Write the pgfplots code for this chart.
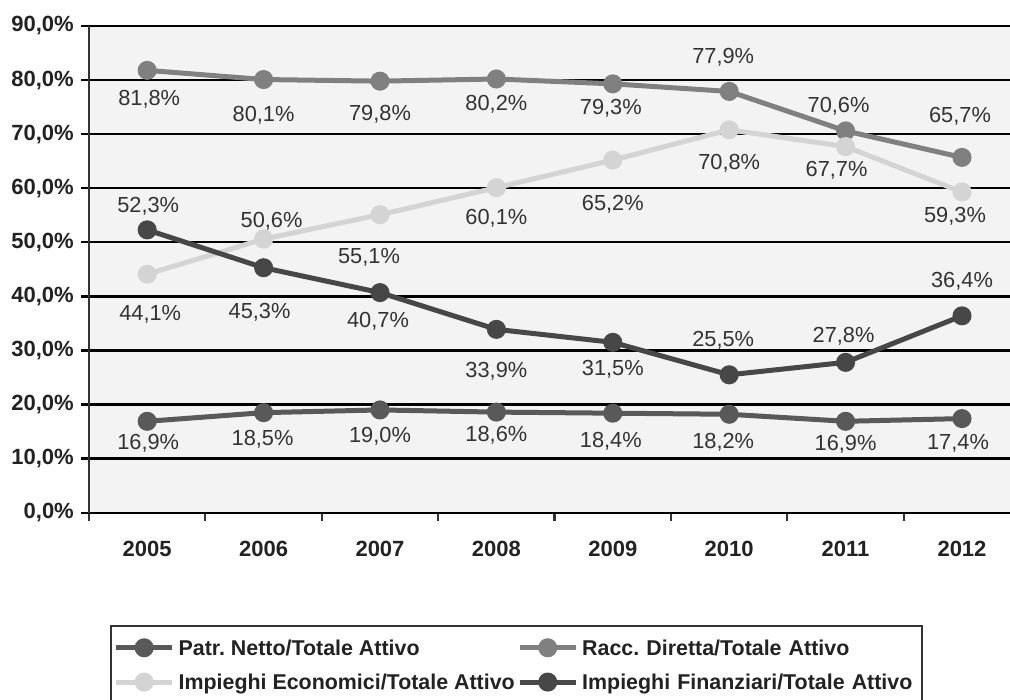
\documentclass[border=0pt]{standalone}
\usepackage{fontspec}
\setmainfont{Liberation Sans}
\usepackage{pgfplots}
\usepackage{pgfplotstable}
\pgfplotsset{compat=1.18}
\frenchspacing

\definecolor{patr}{HTML}{595959}
\definecolor{racc}{HTML}{808080}
\definecolor{econ}{HTML}{D4D4D4}
\definecolor{fin}{HTML}{474747}
\definecolor{plotbg}{HTML}{F3F3F3}
\definecolor{labtext}{HTML}{333333}
\definecolor{ticktext}{HTML}{222222}
\definecolor{axisgray}{HTML}{333333}

% x = year index (0 = 2005), val = ratio in %, lx/ly = label shift in pt
\pgfplotstableread{
x val lx ly
0 16.9 1 -20
1 18.5 -1 -25
2 19.0 0 -25
3 18.6 0 -22
4 18.4 -2 -27
5 18.2 -6 -26
6 16.9 0 -21
7 17.4 -4 -23
}\patrtab

\pgfplotstableread{
x val lx ly
0 81.8 2 -27
1 80.1 0 -34
2 79.8 0 -32
3 80.2 0 -24
4 79.3 -2 -23
5 77.9 -6 36
6 70.6 -7 26
7 65.7 -2 43
}\racctab

\pgfplotstableread{
x val lx ly
0 44.1 3 -38
1 50.6 8 19
2 55.1 -11 -41
3 60.1 0 -29
4 65.2 0 -43
5 70.8 0 -32
6 67.7 -9 -22.5
7 59.3 -7 -22.5
}\econtab

\pgfplotstableread{
x val lx ly
0 52.3 1 25
1 45.3 -4 -43
2 40.7 -2 -27
3 33.9 0 -40
4 31.5 0 -25
5 25.5 -6 36
6 27.8 -2 28
7 36.4 0 36
}\fintab

\pgfplotsset{
  serie/.style={draw=#1, line width=5pt, mark=*, mark size=7pt,
    mark options={fill=#1, draw=none}},
  valuelabels/.style={
    point meta=y,
    nodes near coords={\pgfmathprintnumber[fixed,fixed zerofill,precision=1,use comma,assume math mode=true]{\pgfplotspointmeta}\%},
    visualization depends on={\thisrow{lx} \as \lx},
    visualization depends on={\thisrow{ly} \as \ly},
    every node near coord/.append style={anchor=center, xshift=\lx pt, yshift=\ly pt,
      inner sep=0pt, text height=15.6pt, text depth=0pt,
      font=\fontsize{21.8}{25}\selectfont, text=labtext},
  },
}

\begin{document}
\begin{tikzpicture}
\useasboundingbox (0pt,0pt) rectangle (1010pt,700pt);
\clip (0pt,0pt) rectangle (1010pt,700pt);
\begin{axis}[
  at={(89pt,187.3pt)}, anchor=south west,
  scale only axis, width=931.2pt, height=486.7pt,
  xmin=-0.5, xmax=7.5, ymin=0, ymax=90,
  clip=false,
  axis lines*=left,
  axis background/.style={fill=plotbg},
  x axis line style={draw=black, line width=2.3pt},
  y axis line style={draw=axisgray, line width=2.6pt},
  tick align=outside, major tick length=8pt,
  xtick={-0.5,0.5,...,7.5}, xticklabels={},
  xtick style={line width=2.2pt, draw=axisgray},
  extra x ticks={0,1,...,7},
  extra x tick labels={2005,2006,2007,2008,2009,2010,2011,2012},
  extra x tick style={major tick length=0pt, tick style={draw=none},
    xticklabel style={anchor=north, inner sep=0pt, yshift=-27.4pt,
      text height=15.8pt, text depth=0pt,
      font=\bfseries\fontsize{22}{25}\selectfont, text=ticktext}},
  ytick={0,10,...,90},
  yticklabels={{0,0\%},{10,0\%},{20,0\%},{30,0\%},{40,0\%},{50,0\%},{60,0\%},{70,0\%},{80,0\%},{90,0\%}},
  ytick style={line width=2.3pt, draw=black},
  yticklabel style={anchor=east, inner sep=0pt, xshift=-7pt,
    font=\bfseries\fontsize{22}{25}\selectfont, text=ticktext},
  ymajorgrids,
  major grid style={line width=2.3pt, draw=black},
  legend columns=2,
  legend cell align=left,
  legend image code/.code={\draw[mark repeat=2,mark phase=2]
    plot coordinates {(0pt,0pt) (28pt,0pt) (56pt,0pt)};},
  legend style={at={(0.02255,-0.23074)}, anchor=north west,
    draw=axisgray, line width=2.3pt, fill=white,
    inner xsep=2.5pt, inner ysep=14pt,
    font=\bfseries\fontsize{21.4}{25}\selectfont, text=ticktext,
    nodes={inner sep=0pt, text height=15.3pt, text depth=0pt},
    column sep=4pt, row sep=19pt,
    /tikz/every even column/.append style={column sep=2.5pt},
    /tikz/column 4/.append style={nodes={text width=337pt, align=left}}},
]
\addplot[serie=patr, valuelabels] table[x=x, y=val] {\patrtab};
\addlegendentry{Patr.\ Netto/Totale Attivo}
\addplot[serie=racc, valuelabels] table[x=x, y=val] {\racctab};
\addlegendentry{Racc.\ Diretta/Totale Attivo}
\addplot[serie=econ, valuelabels] table[x=x, y=val] {\econtab};
\addlegendentry{Impieghi Economici/Totale Attivo}
\addplot[serie=fin, valuelabels] table[x=x, y=val] {\fintab};
\addlegendentry{Impieghi Finanziari/Totale Attivo}
\end{axis}
\end{tikzpicture}
\end{document}
